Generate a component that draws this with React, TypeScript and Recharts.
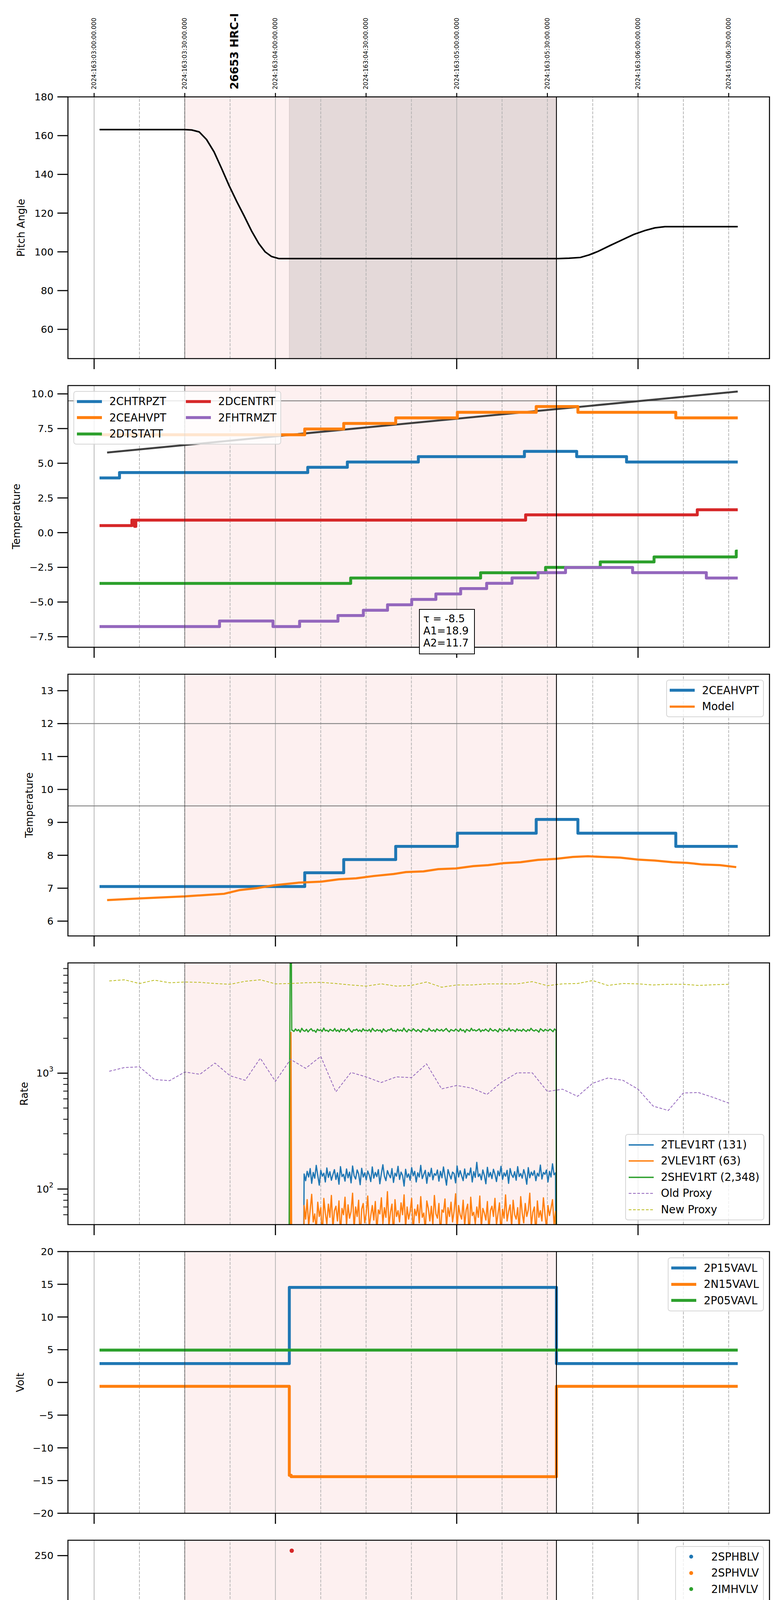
import React from 'react';
import { ComposedChart, Line, Scatter, XAxis, YAxis, ReferenceArea, ReferenceLine, Legend } from 'recharts';

type Pt = [number, number];

const FONT = '"DejaVu Sans", sans-serif';
const BLUE = '#1f77b4';
const ORANGE = '#ff7f0e';
const GREEN = '#2ca02c';
const RED = '#d62728';
const PURPLE = '#9467bd';
const OLIVE = '#bcbd22';

// time axis: minutes after 23h
const X_DOMAIN: [number, number] = [-8.66, 223.5];
const QUARTER_TICKS = [0, 15, 30, 45, 60, 75, 90, 105, 120, 135, 150, 165, 180, 195, 210];
const HOUR_TICKS = [0, 60, 120, 180];
const HOUR_LABELS = ['23h', '00h', '01h', '02h'];
const HALF_HOUR_TICKS = [0, 30, 60, 90, 120, 150, 180, 210];
const DOY_LABELS = [
  '2024:163:03:00:00.000', '2024:163:03:30:00.000', '2024:163:04:00:00.000', '2024:163:04:30:00.000',
  '2024:163:05:00:00.000', '2024:163:05:30:00.000', '2024:163:06:00:00.000', '2024:163:06:30:00.000',
];
const OBS_T = 46.5;
const OBS_LABEL = '26653 HRC-I';
const X_TITLE = '2024-06-11 (163)';
const SHADE: Pt = [30, 153];
const SLEW_SHADE: Pt = [64.6, 153];

// ---- panel 1: pitch
const PITCH: Pt[] = [
  [1.8, 163.1], [30, 163.1], [32.3, 162.9], [34.8, 161.9], [37.2, 158.0], [39.7, 151.6], [42.2, 143.0],
  [44.7, 134.1], [47.2, 126.0], [49.6, 118.7], [52.1, 110.8], [54.5, 104.3], [56.6, 100.0], [58.7, 97.6],
  [61.2, 96.5], [153.5, 96.5], [157.2, 96.7], [160.9, 97.1], [163.8, 98.4], [166.7, 100.2], [170.8, 103.3],
  [174.9, 106.3], [178.6, 109.0], [182.3, 111.0], [185.6, 112.4], [188.9, 113.0], [213, 113.0],
];

// ---- panel 2: temperatures
const LIMIT_LINE: Pt[] = [[4.3, 5.77], [213, 10.17]];
const CHTRPZT: Pt[] = [[1.8, 3.94], [8.4, 4.33], [70.7, 4.71], [83.8, 5.09], [107.3, 5.48], [142.4, 5.86], [159.7, 5.48], [176.2, 5.09], [213, 5.09]];
const CEAHVPT: Pt[] = [[1.8, 7.05], [69.7, 7.47], [82.6, 7.87], [99.8, 8.27], [120.2, 8.67], [146.3, 9.09], [160.1, 8.67], [192.5, 8.27], [213, 8.27]];
const DTSTATT: Pt[] = [[1.8, -3.66], [84.9, -3.27], [127.9, -2.89], [149.4, -2.5], [167.5, -2.11], [185.3, -1.75], [212.5, -1.33], [213, -1.33]];
const DCENTRT: Pt[] = [[1.8, 0.51], [12.5, 0.9], [13.4, 0.45], [13.8, 0.9], [142.8, 1.28], [199.6, 1.65], [213, 1.65]];
const FHTRMZT: Pt[] = [
  [1.8, -6.77], [41.5, -6.37], [59.2, -6.77], [68.0, -6.38], [80.7, -5.97], [89.1, -5.59], [97.1, -5.2], [105.1, -4.81],
  [113.1, -4.42], [121.3, -4.03], [129.9, -3.65], [138.3, -3.26], [146.9, -2.88], [156.0, -2.51], [178.2, -2.88], [202.6, -3.27], [213, -3.27],
];
const FIT_TEXT = ['τ = -8.5', 'A1=18.9', 'A2=11.7'];

// ---- panel 3: model
const MODEL: Pt[] = [
  [4.3, 6.64], [15, 6.69], [29.9, 6.75], [43, 6.83], [48, 6.94], [53.8, 7.0], [59.5, 7.09], [67.8, 7.17], [75.2, 7.2],
  [81, 7.27], [86.7, 7.3], [92.5, 7.37], [99.1, 7.43], [103.2, 7.49], [109, 7.51], [113.9, 7.58], [119.7, 7.6], [125.5, 7.67],
  [130.4, 7.7], [135.4, 7.76], [141.1, 7.79], [146.9, 7.86], [152.7, 7.89], [158.4, 7.95], [163.4, 7.97], [168.3, 7.95],
  [174.1, 7.93], [179.9, 7.87], [185.6, 7.84], [191.4, 7.79], [196.3, 7.77], [201.3, 7.72], [207.1, 7.7], [212.5, 7.64],
];

// ---- panel 4: rates
const RATE_T0 = 69.5;
const RATE_T1 = 152.7;
const TLEV_NOISE = [
  135, 118, 142, 127, 150, 112, 139, 124, 160, 131, 108, 145, 129, 137, 115, 152, 126, 141, 119, 133,
  147, 121, 138, 110, 156, 128, 134, 117, 149, 125, 140, 113, 158, 130, 122, 146, 135, 109, 151, 127,
  138, 120, 143, 132, 116, 155, 124, 139, 128, 147, 111, 136, 162, 129, 118, 144, 133, 125, 150, 114,
  137, 129, 157, 121, 140, 131, 106, 148, 126, 135, 119, 153, 130, 142, 115, 138, 127, 160, 123, 134,
  145, 112, 139, 128, 151, 120, 136, 131, 146, 117, 142, 125, 155, 129, 108, 147, 133, 122, 140, 136,
  113, 158, 127, 144, 130, 118, 149, 124, 137, 132, 152, 115, 141, 126, 170, 128, 135, 120, 146, 131,
  111, 154, 127, 139, 123, 148, 134, 116, 143, 130, 157, 121, 138, 129, 145, 112, 150, 133, 126, 141,
  119, 156, 128, 136, 124, 147, 132, 110, 153, 125, 140, 131, 144, 118, 137, 129, 161, 122, 139, 134,
  146, 115, 142, 127, 165, 133, 138,
];
const VLEV_NOISE = [
  72, 55, 81, 48, 66, 90, 52, 61, 44, 77, 58, 69, 38, 83, 62, 50, 74, 57, 88, 46,
  65, 71, 53, 79, 41, 68, 60, 85, 49, 73, 56, 64, 92, 45, 70, 58, 80, 36, 67, 75,
  51, 62, 87, 47, 59, 72, 54, 78, 43, 66, 61, 84, 50, 69, 57, 95, 48, 63, 74, 39,
  81, 58, 65, 52, 76, 60, 89, 46, 70, 55, 64, 83, 42, 67, 59, 73, 51, 86, 57, 62,
  44, 79, 68, 53, 71, 49, 88, 61, 56, 75, 40, 66, 63, 82, 47, 69, 58, 77, 52, 64,
  91, 45, 72, 60, 55, 80, 48, 66, 74, 37, 85, 59, 63, 50, 70, 57, 87, 46, 68, 62,
  54, 78, 43, 65, 71, 58, 83, 49, 61, 76, 41, 67, 56, 89, 53, 64, 73, 47, 80, 60,
  55, 69, 44, 86, 62, 51, 75, 58, 66, 92, 48, 63, 70, 39, 79, 57, 65, 53, 84, 61,
  46, 72, 59, 68, 81, 50, 64,
];
const SHEV_T0 = 65.6;
const SHEV_T1 = 152.9;
const SHEV_NOISE = [
  2350, 2290, 2410, 2320, 2380, 2260, 2440, 2330, 2300, 2390, 2270, 2360, 2420, 2310, 2340, 2250, 2400, 2330, 2370, 2290,
  2450, 2320, 2350, 2280, 2390, 2340, 2310, 2430, 2300, 2360, 2270, 2410, 2330, 2380, 2290, 2350, 2440, 2320, 2260, 2370,
  2340, 2400, 2300, 2360, 2280, 2420, 2330, 2350, 2310, 2390, 2270, 2440, 2340, 2300, 2380, 2320, 2360, 2250, 2410, 2330,
  2290, 2370, 2350, 2430, 2310, 2340, 2280, 2400, 2320, 2360, 2300, 2450, 2330, 2270, 2390, 2340, 2310, 2420, 2350, 2290,
  2380, 2320, 2260, 2400, 2360, 2330, 2300, 2440, 2340, 2310, 2370, 2280, 2410, 2350, 2320, 2390, 2300, 2360, 2430, 2330,
  2270, 2380, 2340, 2310, 2400, 2350, 2290, 2420, 2320, 2360, 2250, 2390, 2340, 2300, 2440, 2330, 2370, 2310, 2350, 2410,
  2280, 2360, 2320, 2400, 2340, 2290, 2430, 2350, 2310, 2380, 2330, 2270, 2420, 2360, 2300, 2390, 2340, 2320, 2450, 2310,
  2370, 2350, 2280, 2410, 2330, 2360, 2300, 2400, 2340, 2290, 2380, 2320, 2440, 2350, 2310, 2370, 2330, 2260, 2420, 2360,
  2300, 2390, 2340, 2320, 2400, 2350, 2280, 2410, 2330,
];
const TLEV_EDGES: Pt[] = [[69.3, 20], [152.8, 20]];
const VLEV_LEAD: Pt[] = [[64.9, 20], [65.15, 2250], [65.4, 20], [69.4, 20]];
const VLEV_END: Pt[] = [[152.8, 20]];
const SHEV_LEAD: Pt[] = [[64.5, 20], [64.7, 1100], [65.1, 90000], [65.4, 2350]];
const SHEV_END: Pt[] = [[153.0, 20]];
const PROXY_T = [5, 10, 15, 20, 25, 30, 35, 40, 45, 50, 55, 60, 65, 70, 75, 80, 85, 90, 95, 100, 105, 110, 115, 120, 125, 130, 135, 140, 145, 150, 155, 160, 165, 170, 175, 180, 185, 190, 195, 200, 205, 210];
const OLD_PROXY = [1038, 1118, 1134, 881, 862, 1023, 978, 1222, 949, 868, 1346, 849, 1316, 1101, 1397, 690, 1015, 929, 830, 929, 915, 1204, 732, 783, 743, 655, 843, 1007, 1007, 695, 727, 631, 818, 908, 868, 727, 520, 476, 675, 680, 616, 552];
const NEW_PROXY = [6250, 6400, 5940, 6350, 6030, 6120, 6080, 5940, 5850, 6210, 6400, 5900, 5940, 6030, 6080, 5940, 5770, 5640, 5900, 5640, 5720, 6120, 5520, 5770, 5770, 5900, 5900, 5900, 6170, 5690, 5900, 5940, 6300, 5720, 5940, 5900, 5770, 5850, 5850, 5720, 5800, 5850];

// ---- panel 5: voltages
const P15VAVL: Pt[] = [[1.8, 2.88], [64.6, 14.52], [153.0, 2.88], [213, 2.88]];
const N15VAVL: Pt[] = [[1.8, -0.6], [64.6, -14.2], [65.2, -14.4], [153.0, -0.6], [213, -0.6]];
const P05VAVL: Pt[] = [[1.8, 4.94], [213, 4.94]];

// ---- panel 6: HV monitor
const IMHVLV_PTS: Pt[] = [[66.1, 99.4], [66.7, 95.6], [67.4, 89.9], [68.1, 86.5], [68.7, 83.1], [69.4, 80.4], [91.2, 127], [95.9, 127]];
const IMHVLV_RUN: Pt[] = [[69.8, 78.9], [153.0, 78.9]];
const IMHBLV_PTS: Pt[] = [[65.4, 255], [66.1, 127], [66.1, 126], [66.1, 119], [66.4, 106], [66.9, 101.3], [67.4, 97.1], [68.1, 93], [68.6, 89.9], [69.1, 88], [78.2, 79], [91.2, 79], [95.8, 79]];
const IMHBLV_RUN: Pt[] = [[69.6, 86.1], [153.0, 86.1]];

// ---- panel 7: detector temps (dropouts sampled as fast toggles)
const SPINATM: Pt[] = [
  [64.9, -3], [65.2, 3.15],
  [77.5, -3], [77.8, 3.15], [78.1, -3], [78.4, 3.15], [78.7, -3], [79.0, 3.15], [79.3, -3], [79.6, 3.15], [79.9, -3], [80.2, 3.15], [80.4, -3], [80.6, 3.15],
  [90.8, -3], [91.1, 3.15], [91.4, -3], [91.7, 3.15], [91.9, -3], [92.1, 3.15],
  [95.1, -3], [95.4, 3.15], [95.7, -3], [96.0, 3.15],
  [120.2, 3.65], [152.8, -3],
];
const SPHVATM: Pt[] = [
  [64.9, -3], [65.1, 15.35], [77.7, 8.4], [77.9, 15.35], [78.5, 8.75], [78.8, 15.35], [79.5, 8.7], [80.1, 15.35],
  [90.8, 9.4], [91.1, 15.35], [91.4, 9.4], [91.7, 15.35], [91.9, 9.4], [92.1, 15.35],
  [95.1, 9.4], [95.4, 15.35], [95.7, 9.4], [96.1, 15.68],
  [117.7, 16.02], [140.8, 16.38], [152.7, -3],
];
const IMINATM: Pt[] = [
  [64.9, -3], [65.2, 0.84],
  [77.5, 3.2], [77.8, 0.84], [78.1, 3.2], [78.4, 0.84], [78.7, 3.2], [79.0, 0.84], [79.3, 3.2], [79.6, 0.84], [79.9, 3.2], [80.2, 0.84], [80.4, 3.2], [80.6, 0.84],
  [90.8, 3.2], [91.1, 0.84], [91.4, 3.2], [91.7, 0.84], [91.9, 3.2], [92.1, 0.84],
  [95.1, 3.2], [95.4, 0.84], [95.7, 3.2], [96.0, 0.84],
  [126.5, 1.31], [136.0, 0.9], [136.3, 1.31], [152.8, -3],
];
const IMHVATM: Pt[] = [[64.9, -3], [65.1, 14.65], [73.2, 15.01], [78.4, 15.35], [85.9, 15.68], [92.5, 16.02], [99.9, 16.38], [108.1, 16.72], [117.7, 17.05], [129.6, 17.42], [143.6, 17.78], [153.0, 25], [153.2, -3], [153.4, 25], [153.6, -3]];

// ---- panel 8: FEA temps
const FRADPYT: Pt[] = [[1.8, -8.38], [53.5, -8.8], [67.1, -8.38], [77.3, -7.99], [85.6, -7.58], [93.6, -7.17], [101.7, -6.77], [110.4, -6.38], [119.4, -5.99], [128.1, -5.58], [137.2, -5.2], [146.4, -4.8], [156.8, -4.41], [159.6, -4.8], [170.0, -5.2], [181.7, -5.58], [203.3, -5.99], [213, -5.99]];
const FEPRATM: Pt[] = [[64.6, -9.5], [64.9, -6.9], [68.4, -6.42], [71.2, -6.03], [74.2, -5.62], [77.7, -5.2], [82.2, -4.77], [87.8, -4.35], [93.2, -3.94], [100.7, -3.53], [108.0, -3.09], [116.0, -2.68], [124.0, -2.26], [132.5, -1.83], [141.5, -1.39], [151.0, -0.95], [152.8, -9.5]];
const FE00ATM: Pt[] = [
  [64.9, -9.5], [65.1, -7.47], [65.6, -7.82], [67.6, -7.47], [76.1, -7.13],
  [77.4, 0], [77.7, -7.13], [78.0, 0], [78.3, -7.13], [78.6, 0], [78.9, -7.13], [79.2, 0], [79.5, -7.13], [79.8, 0], [80.1, -7.13], [80.4, 0], [80.7, -6.75],
  [86.9, -6.4],
  [90.8, 0], [91.0, -7.13], [91.1, 0], [91.4, -6.4], [91.7, 0], [92.0, -6.4], [92.3, 0], [92.6, -6.4],
  [93.2, 0], [93.5, -6.05], [93.8, 0], [94.1, -6.05], [94.4, 0], [94.7, -6.05], [95.0, 0], [95.3, -6.05], [95.6, 0], [95.9, -6.05], [96.2, 0], [96.5, -6.05],
  [97.2, -6.42], [97.4, -6.05], [98.1, -5.7], [103.5, -5.35], [109.7, -5.0], [115.5, -4.64], [122.0, -4.31], [128.4, -3.97],
  [134.8, -3.25], [135.0, -3.97], [135.4, -3.62], [142.0, -3.28], [142.8, -2.92], [143.0, -3.28], [149.4, -2.95],
  [153.0, 0], [153.2, -9.5], [153.4, 0], [153.6, -9.5],
];

// ---- y axes
const PITCH_TICKS = [60, 80, 100, 120, 140, 160, 180];
const TEMP_TICKS = [-7.5, -5, -2.5, 0, 2.5, 5, 7.5, 10];
const CEA_TICKS = [6, 7, 8, 9, 10, 11, 12, 13];
const RATE_TICKS = [60, 70, 80, 90, 100, 200, 300, 400, 500, 600, 700, 800, 900, 1000, 2000, 3000, 4000, 5000, 6000, 7000, 8000];
const VOLT_TICKS = [-20, -15, -10, -5, 0, 5, 10, 15, 20];
const HV_TICKS = [0, 50, 100, 150, 200, 250];
const DET_TICKS = [0, 2.5, 5, 7.5, 10, 12.5, 15, 17.5];
const FEA_TICKS = [-9, -8, -7, -6, -5, -4, -3, -2, -1];

// ---- layout
const W = 2000;
const H = 6200;
const PLOT_LEFT = 174;
const RIGHT_PAD = 29.5;
const PANEL_TOP = [248, 987, 1726, 2465, 3204, 3943, 4682, 5421];
const PANEL_H = 670;

const rows = (pts: Pt[]) => pts.map(([t, v]) => ({ t, v }));
const sampled = (t0: number, t1: number, vals: number[]) =>
  vals.map((v, i): Pt => [t0 + (i * (t1 - t0)) / (vals.length - 1), v]);
const num = (digits: number) => (v: number) => (v < 0 ? '\u2212' : '') + Math.abs(v).toFixed(digits);
const pow10 = (v: number) => (
  <>
    <tspan>10</tspan>
    <tspan dy={-11} fontSize={18}>{Math.round(Math.log10(v))}</tspan>
  </>
);
const isMinorLog = (v: number) => Math.abs(Math.log10(v) - Math.round(Math.log10(v))) > 1e-6;

const makeYTick = (fmt: (v: number) => React.ReactNode, isMinor: (v: number) => boolean = () => false) =>
  (props: any) => {
    const { x, y, payload } = props;
    const minor = isMinor(payload.value);
    return (
      <g>
        <line x1={minor ? x + 25 : x + 10} x2={x + 37} y1={y} y2={y} stroke="#000" strokeWidth={minor ? 2 : 2.8} />
        {!minor && (
          <text x={x} y={y} textAnchor="end" dominantBaseline="central" fontFamily={FONT} fontSize={25.5} fill="#000">
            {fmt(payload.value)}
          </text>
        )}
      </g>
    );
  };

const makeXTick = (labels: boolean) => (props: any) => {
  const { x, y, payload } = props;
  const v = payload.value;
  const h = HOUR_TICKS.indexOf(v);
  if (h >= 0) {
    return (
      <g>
        <line x1={x} x2={x} y1={y - 27} y2={y} stroke="#000" strokeWidth={2.8} />
        {labels && (
          <text x={x} y={y + 22} textAnchor="middle" dominantBaseline="central" fontFamily={FONT} fontSize={28} fill="#000">
            {HOUR_LABELS[h]}
          </text>
        )}
      </g>
    );
  }
  if (!labels) return <g />;
  return (
    <text x={x} y={y - 10.3} textAnchor="middle" dominantBaseline="central" fontFamily={FONT} fontSize={16.5} fill="#000">
      {String(v % 60)}
    </text>
  );
};

// rotated labels above the first panel, hung on reference lines so they follow the x scale
const topLabel = (text: string, bold: boolean) => (lp: any) => {
  const vb = lp?.viewBox;
  if (!vb) return null;
  const x = vb.x;
  const top = PANEL_TOP[0];
  const ty = top - 19;
  return (
    <g>
      {!bold && <line x1={x} x2={x} y1={top - 10} y2={top} stroke="#000" strokeWidth={2.5} />}
      <text
        transform={`rotate(-90 ${x} ${ty})`}
        x={x}
        y={ty}
        dominantBaseline="central"
        fontFamily={FONT}
        fontWeight={bold ? 'bold' : 'normal'}
        fontSize={bold ? 28 : 15.5}
        fill="#000"
      >
        {text}
      </text>
    </g>
  );
};

type Entry = { name: string; color: string; width?: number; dash?: string; dot?: boolean };

function LegendBox({ entries, nrows }: { entries: Entry[]; nrows: number }) {
  return (
    <div
      style={{
        display: 'grid', gridAutoFlow: 'column', gridTemplateRows: `repeat(${nrows}, 41.5px)`, columnGap: 50,
        padding: '4.5px 10px 4.5px 7px', background: 'rgba(255,255,255,0.8)', border: '2px solid rgba(204,204,204,0.8)',
        borderRadius: 7, fontFamily: FONT, fontSize: 27.5, color: '#000', lineHeight: 1,
      }}
    >
      {entries.map((e) => (
        <div key={e.name} style={{ display: 'flex', alignItems: 'center', whiteSpace: 'nowrap' }}>
          <svg width={64} height={14} style={{ flex: 'none' }}>
            {e.dot ? (
              <circle cx={32} cy={7} r={5} fill={e.color} />
            ) : (
              <line x1={0} x2={64} y1={7} y2={7} stroke={e.color} strokeWidth={e.width ?? 7.5} strokeDasharray={e.dash} />
            )}
          </svg>
          <span style={{ marginLeft: 19 }}>{e.name}</span>
        </div>
      ))}
    </div>
  );
}

const legendAt = (entries: Entry[], nrows: number, pos: React.CSSProperties) => (
  <Legend
    layout="vertical"
    align="center"
    verticalAlign="middle"
    wrapperStyle={{ width: 'auto', height: 'auto', ...pos }}
    content={() => <LegendBox entries={entries} nrows={nrows} />}
  />
);

const step = (name: string, pts: Pt[], color: string, width = 7.5, extra: Record<string, any> = {}) => (
  <Line
    key={name}
    name={name}
    data={rows(pts)}
    dataKey="v"
    type="stepAfter"
    stroke={color}
    strokeWidth={width}
    strokeLinejoin="round"
    dot={false}
    activeDot={false}
    legendType="none"
    isAnimationActive={false}
    {...extra}
  />
);

const dots = (name: string, pts: Pt[], color: string) => (
  <Scatter
    key={name}
    name={name}
    data={rows(pts)}
    dataKey="v"
    fill={color}
    legendType="none"
    isAnimationActive={false}
    shape={(sp: any) => <circle cx={sp.cx} cy={sp.cy} r={5.5} fill={color} />}
  />
);

type PanelProps = {
  index: number;
  yDomain: [number, number];
  yTicks: number[];
  yFormat: (v: number) => React.ReactNode;
  yMinor?: (v: number) => boolean;
  log?: boolean;
  yLabel: string;
  yLabelX: number;
  withTop?: boolean;
  withBottomLabels?: boolean;
  slew?: boolean;
  hLines?: number[];
  legend?: React.ReactNode;
  overlay?: React.ReactNode;
  children?: React.ReactNode;
};

function Panel(p: PanelProps) {
  const topPad = p.withTop ? PANEL_TOP[0] : 10;
  const bottomPad = p.withBottomLabels ? 115 : 40;
  const height = topPad + PANEL_H + bottomPad;
  const midY = topPad + PANEL_H / 2;
  return (
    <div style={{ position: 'absolute', left: 0, top: PANEL_TOP[p.index] - topPad, width: W, height }}>
      <ComposedChart width={W} height={height} margin={{ top: topPad, right: RIGHT_PAD, bottom: 0, left: 0 }}>
        <XAxis
          dataKey="t"
          type="number"
          domain={X_DOMAIN}
          allowDataOverflow
          ticks={p.withBottomLabels ? QUARTER_TICKS : HOUR_TICKS}
          interval={0}
          height={bottomPad}
          tickSize={27}
          tickMargin={0}
          axisLine={false}
          tickLine={false}
          tick={makeXTick(!!p.withBottomLabels)}
          label={
            p.withBottomLabels
              ? () => (
                  <text x={(PLOT_LEFT + W - RIGHT_PAD) / 2} y={topPad + PANEL_H + 88} textAnchor="middle" dominantBaseline="central" fontFamily={FONT} fontSize={33} fill="#000">
                    {X_TITLE}
                  </text>
                )
              : undefined
          }
        />
        <YAxis
          type="number"
          scale={p.log ? 'log' : 'linear'}
          domain={p.yDomain}
          allowDataOverflow
          ticks={p.yTicks}
          interval={0}
          width={PLOT_LEFT}
          tickSize={27}
          tickMargin={10}
          axisLine={false}
          tickLine={false}
          tick={makeYTick(p.yFormat, p.yMinor)}
          label={() => (
            <text transform={`rotate(-90 ${p.yLabelX} ${midY})`} x={p.yLabelX} y={midY} textAnchor="middle" dominantBaseline="central" fontFamily={FONT} fontSize={26.5} fill="#000">
              {p.yLabel}
            </text>
          )}
        />
        <ReferenceArea x1={SHADE[0]} x2={SHADE[1]} fill="#fdf0f0" fillOpacity={1} stroke="none" />
        {p.slew && <ReferenceArea x1={SLEW_SHADE[0]} x2={SLEW_SHADE[1]} fill="#e4d9d9" fillOpacity={1} stroke="#cbbcbc" strokeWidth={1} />}
        {QUARTER_TICKS.map((t) => (
          <ReferenceLine key={`grid${t}`} x={t} stroke="#b0b0b0" strokeWidth={1.8} strokeDasharray={t % 60 === 0 ? undefined : '7.4 3.2'} />
        ))}
        {(p.hLines ?? []).map((v) => (
          <ReferenceLine key={`h${v}`} y={v} stroke="#808080" strokeWidth={2.2} />
        ))}
        {p.children}
        <ReferenceLine x={SHADE[0]} stroke="#333" strokeWidth={1.1} />
        <ReferenceLine x={SHADE[1]} stroke="#000" strokeWidth={2.2} />
        {p.withTop &&
          HALF_HOUR_TICKS.map((t, i) => (
            <ReferenceLine key={`top${t}`} x={t} stroke="none" label={topLabel(DOY_LABELS[i], false)} />
          ))}
        {p.withTop && <ReferenceLine x={OBS_T} stroke="none" label={topLabel(OBS_LABEL, true)} />}
        <ReferenceArea x1={X_DOMAIN[0]} x2={X_DOMAIN[1]} fill="none" stroke="#000" strokeWidth={2.6} ifOverflow="visible" zIndex={900} />
        {p.legend}
      </ComposedChart>
      {p.overlay}
    </div>
  );
}

export default function App() {
  const tlev = [TLEV_EDGES[0], ...sampled(RATE_T0, RATE_T1, TLEV_NOISE), TLEV_EDGES[1]];
  const vlev = [...VLEV_LEAD, ...sampled(RATE_T0, RATE_T1, VLEV_NOISE), ...VLEV_END];
  const shev = [...SHEV_LEAD, ...sampled(SHEV_T0, SHEV_T1, SHEV_NOISE), ...SHEV_END];
  const oldProxy = PROXY_T.map((t, i): Pt => [t, OLD_PROXY[i]]);
  const newProxy = PROXY_T.map((t, i): Pt => [t, NEW_PROXY[i]]);

  return (
    <div style={{ position: 'relative', left: -8, top: -8, width: W, height: H, background: '#fff', fontFamily: FONT, overflow: 'hidden' }}>
      <Panel index={0} yDomain={[44.9, 180]} yTicks={PITCH_TICKS} yFormat={num(0)} yLabel="Pitch Angle" yLabelX={53.6} withTop slew>
        {step('pitch', PITCH, '#000', 4, { type: 'linear' })}
      </Panel>

      <Panel
        index={1}
        yDomain={[-8.26, 10.6]}
        yTicks={TEMP_TICKS}
        yFormat={num(1)}
        yLabel="Temperature"
        yLabelX={41}
        hLines={[9.5]}
        legend={legendAt(
          [
            { name: '2CHTRPZT', color: BLUE },
            { name: '2CEAHVPT', color: ORANGE },
            { name: '2DTSTATT', color: GREEN },
            { name: '2DCENTRT', color: RED },
            { name: '2FHTRMZT', color: PURPLE },
          ],
          3,
          { left: 188, top: 23.7 },
        )}
        overlay={
          <div
            style={{
              position: 'absolute', left: 1073, top: 582, width: 143, height: 116, boxSizing: 'border-box',
              border: '2.5px solid #000', background: '#fff', padding: '7px 0 0 9px', fontFamily: FONT, fontSize: 26.5, lineHeight: '31px', color: '#000',
            }}
          >
            {FIT_TEXT.map((s) => (
              <div key={s} style={{ whiteSpace: 'nowrap' }}>{s}</div>
            ))}
          </div>
        }
      >
        {step('limit', LIMIT_LINE, '#3f3f3f', 5, { type: 'linear' })}
        {step('2CHTRPZT', CHTRPZT, BLUE)}
        {step('2CEAHVPT', CEAHVPT, ORANGE)}
        {step('2DTSTATT', DTSTATT, GREEN)}
        {step('2DCENTRT', DCENTRT, RED)}
        {step('2FHTRMZT', FHTRMZT, PURPLE)}
      </Panel>

      <Panel
        index={2}
        yDomain={[5.55, 13.5]}
        yTicks={CEA_TICKS}
        yFormat={num(0)}
        yLabel="Temperature"
        yLabelX={74}
        hLines={[12, 9.5]}
        legend={legendAt(
          [
            { name: '2CEAHVPT', color: BLUE, width: 7.5 },
            { name: 'Model', color: ORANGE, width: 5.5 },
          ],
          2,
          { left: 'auto', right: 44.5, top: 24 },
        )}
      >
        {step('2CEAHVPT-b', CEAHVPT, BLUE)}
        {step('Model', MODEL, ORANGE, 5.5, { type: 'linear' })}
      </Panel>

      <Panel
        index={3}
        yDomain={[49.3, 8950]}
        yTicks={RATE_TICKS}
        yFormat={pow10}
        yMinor={isMinorLog}
        log
        yLabel="Rate"
        yLabelX={61}
        legend={legendAt(
          [
            { name: '2TLEV1RT (131)', color: BLUE, width: 3.3 },
            { name: '2VLEV1RT (63)', color: ORANGE, width: 3.3 },
            { name: '2SHEV1RT (2,348)', color: GREEN, width: 3.3 },
            { name: 'Old Proxy', color: PURPLE, width: 2, dash: '7 4' },
            { name: 'New Proxy', color: OLIVE, width: 2, dash: '7 4' },
          ],
          5,
          { left: 'auto', right: 43.3, top: 448.3 },
        )}
      >
        {step('2TLEV1RT', tlev, BLUE, 3.2, { type: 'linear' })}
        {step('2VLEV1RT', vlev, ORANGE, 3.2, { type: 'linear' })}
        {step('2SHEV1RT', shev, GREEN, 3.2, { type: 'linear' })}
        {step('Old Proxy', oldProxy, PURPLE, 2, { type: 'linear', strokeDasharray: '7 4' })}
        {step('New Proxy', newProxy, OLIVE, 2, { type: 'linear', strokeDasharray: '7 4' })}
      </Panel>

      <Panel
        index={4}
        yDomain={[-20, 20]}
        yTicks={VOLT_TICKS}
        yFormat={num(0)}
        yLabel="Volt"
        yLabelX={51}
        legend={legendAt(
          [
            { name: '2P15VAVL', color: BLUE },
            { name: '2N15VAVL', color: ORANGE },
            { name: '2P05VAVL', color: GREEN },
          ],
          3,
          { left: 'auto', right: 44.5, top: 25 },
        )}
      >
        {step('2P15VAVL', P15VAVL, BLUE)}
        {step('2N15VAVL', N15VAVL, ORANGE)}
        {step('2P05VAVL', P05VAVL, GREEN)}
      </Panel>

      <Panel
        index={5}
        yDomain={[0, 265.6]}
        yTicks={HV_TICKS}
        yFormat={num(0)}
        yLabel="HV Monitor"
        yLabelX={55}
        legend={legendAt(
          [
            { name: '2SPHBLV', color: BLUE, dot: true },
            { name: '2SPHVLV', color: ORANGE, dot: true },
            { name: '2IMHVLV', color: GREEN, dot: true },
            { name: '2IMHBLV', color: RED, dot: true },
          ],
          4,
          { left: 'auto', right: 44.5, top: 25 },
        )}
      >
        {step('2IMHVLV-run', IMHVLV_RUN, GREEN, 11, { type: 'linear', strokeLinecap: 'round' })}
        {dots('2IMHVLV', IMHVLV_PTS, GREEN)}
        {step('2IMHBLV-run', IMHBLV_RUN, RED, 11, { type: 'linear', strokeLinecap: 'round' })}
        {dots('2IMHBLV', IMHBLV_PTS, RED)}
      </Panel>

      <Panel
        index={6}
        yDomain={[-0.7, 18.91]}
        yTicks={DET_TICKS}
        yFormat={num(1)}
        yLabel="Detector Temp"
        yLabelX={46}
        legend={legendAt(
          [
            { name: '2SPINATM', color: BLUE },
            { name: '2SPHVATM', color: ORANGE },
            { name: '2IMINATM', color: GREEN },
            { name: '2IMHVATM', color: RED },
          ],
          4,
          { left: 'auto', right: 44.5, top: 24 },
        )}
      >
        {step('2SPINATM', SPINATM, BLUE)}
        {step('2SPHVATM', SPHVATM, ORANGE)}
        {step('2IMINATM', IMINATM, GREEN)}
        {step('2IMHVATM', IMHVATM, RED)}
      </Panel>

      <Panel
        index={7}
        yDomain={[-9.07, -0.76]}
        yTicks={FEA_TICKS}
        yFormat={num(0)}
        yLabel="FEA Temp"
        yLabelX={67.6}
        withBottomLabels
        legend={legendAt(
          [
            { name: '2FHTRMZT', color: BLUE },
            { name: '2FRADPYT', color: ORANGE },
            { name: '2FEPRATM', color: GREEN },
            { name: '2FE00ATM', color: RED },
          ],
          4,
          { left: 189, top: 23 },
        )}
      >
        {step('2FHTRMZT-b', FHTRMZT, BLUE)}
        {step('2FRADPYT', FRADPYT, ORANGE)}
        {step('2FEPRATM', FEPRATM, GREEN)}
        {step('2FE00ATM', FE00ATM, RED)}
      </Panel>
    </div>
  );
}
